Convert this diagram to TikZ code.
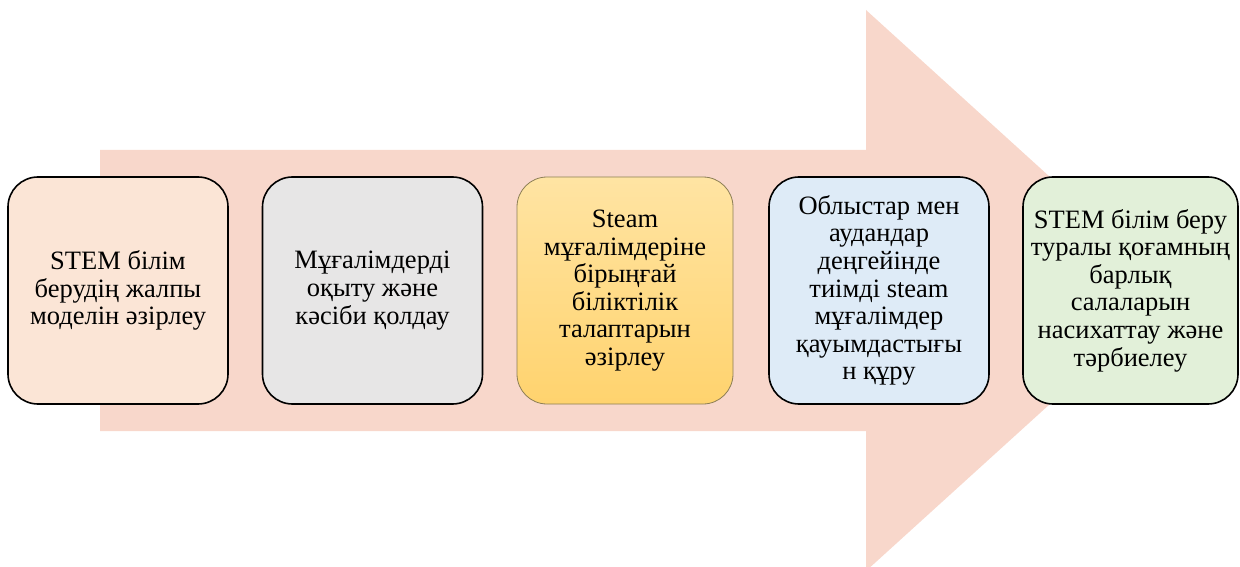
\documentclass[tikz,border=0pt]{standalone}
\usepackage{fontspec}
\setmainfont{Liberation Serif}
\begin{document}
\begin{tikzpicture}[x=1pt,y=-1pt,
  stage/.style={rounded corners=30pt, minimum width=220pt, minimum height=227pt,
    align=center, inner sep=2pt, font=\fontsize{26.5}{27.6}\selectfont},
  dark/.style={stage, draw=black, line width=1.6pt},
  flowarrow/.style={fill=arrowpink, draw=none}]
\definecolor{arrowpink}{HTML}{F8D7CB}
\definecolor{peach}{HTML}{FBE5D6}
\definecolor{lightgrey}{HTML}{E7E6E6}
\definecolor{goldtop}{HTML}{FFE4A3}
\definecolor{goldbot}{HTML}{FFD36E}
\definecolor{goldrim}{HTML}{8C7E55}
\definecolor{lightblue}{HTML}{DEEBF7}
\definecolor{lightgreen}{HTML}{E2F0D9}

\useasboundingbox (0,0) rectangle (1240,567);
\clip (0,0) rectangle (1240,567);

% broad background arrow
\fill[flowarrow] (100,150) -- (866,150) -- (866,10) -- (1175,290.5)
  -- (866,571) -- (866,431) -- (100,431) -- cycle;

% five stages
\node[dark, fill=peach] (s1) at (118,290.5)
  {STEM білім\\берудің жалпы\\моделін әзірлеу};
\node[dark, fill=lightgrey] (s2) at (372.5,290.5)
  {Мұғалімдерді\\оқыту және\\кәсіби қолдау};
\node[stage, minimum width=216pt, draw=goldrim, line width=0.8pt,
  top color=goldtop, bottom color=goldbot] (s3) at (625,290.5)
  {Steam\\мұғалімдеріне\\бірыңғай\\біліктілік\\талаптарын\\әзірлеу};
\node[dark, fill=lightblue] (s4) at (879,290.5)
  {Облыстар мен\\аудандар\\деңгейінде\\тиімді steam\\мұғалімдер\\қауымдастығы\\н құру};
\node[dark, fill=lightgreen, minimum width=215pt] (s5) at (1130.5,290.5)
  {STEM білім беру\\туралы қоғамның\\барлық\\салаларын\\насихаттау және\\тәрбиелеу};
\end{tikzpicture}
\end{document}
